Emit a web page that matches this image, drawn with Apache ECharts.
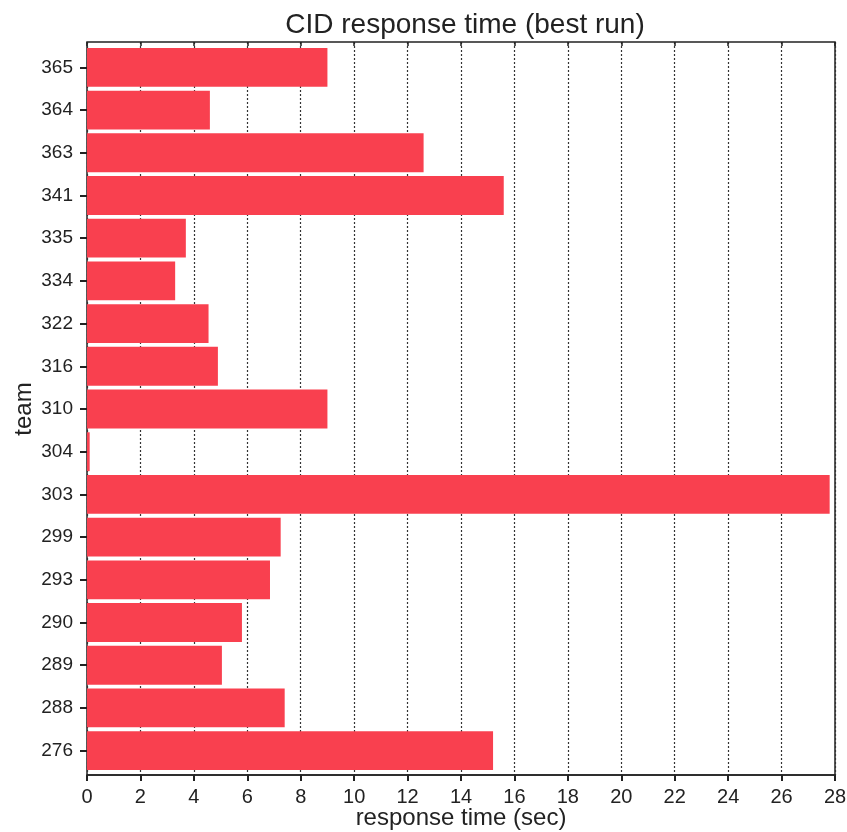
<!DOCTYPE html>
<html>
<head>
<meta charset="utf-8">
<title>CID response time</title>
<script src="https://cdn.jsdelivr.net/npm/echarts@6/dist/echarts.min.js"></script>
<style>
  html, body { margin: 0; padding: 0; background: #fff; }
  #chart { width: 847px; height: 832px; }
</style>
</head>
<body>
<div id="chart"></div>
<script>
// teams, top to bottom as shown
const teams = ['365', '364', '363', '341', '335', '334', '322', '316', '310', '304', '303', '299', '293', '290', '289', '288', '276']
// best-run response time (sec)
const responseTime = [9.0, 4.6, 12.6, 15.6, 3.7, 3.3, 4.55, 4.9, 9.0, 0.1, 27.8, 7.25, 6.85, 5.8, 5.05, 7.4, 15.2]

const font = 'Liberation Sans, Arial, Helvetica, sans-serif'
const ink = '#222'

const myChart = echarts.init(document.getElementById('chart'))

myChart.setOption({
  animation: false,
  textStyle: { fontFamily: font },
  title: {
    text: 'CID response time (best run)',
    left: 460,
    top: 6,
    textAlign: 'center',
    textStyle: { fontFamily: font, fontSize: 28, fontWeight: 'normal', color: ink }
  },
  grid: [
    // frame with x axis and grid lines
    {
      left: 87,
      right: 12,
      top: 42,
      bottom: 57,
      outerBoundsMode: 'none',
      show: true,
      borderColor: ink,
      borderWidth: 1.5,
      backgroundColor: '#fff'
    },
    // bars sit a few pixels inside the frame
    {
      left: 87,
      right: 12,
      top: 46,
      bottom: 60,
      outerBoundsMode: 'none'
    }
  ],
  xAxis: [
    {
      gridIndex: 0,
      type: 'value',
      min: 0,
      max: 28,
      interval: 2,
      name: 'response time (sec)',
      nameLocation: 'middle',
      nameGap: 31,
      nameMoveOverlap: false,
      nameTextStyle: { fontSize: 24, color: ink },
      axisLine: { show: true, lineStyle: { color: ink, width: 1.5 } },
      axisTick: { show: true, length: 6, lineStyle: { color: ink, width: 2 } },
      axisLabel: { fontSize: 20, color: ink, margin: 12 },
      // dotted vertical grid lines
      splitLine: { show: true, lineStyle: { color: '#333', type: [2, 2], width: 1.2 } }
    },
    {
      // ticks on the top border, inside
      gridIndex: 0,
      type: 'value',
      position: 'top',
      min: 0,
      max: 28,
      interval: 2,
      axisLine: { show: false },
      axisTick: { show: true, inside: true, length: 4, lineStyle: { color: ink, width: 1.5 } },
      axisLabel: { show: false },
      splitLine: { show: false }
    },
    {
      gridIndex: 1,
      type: 'value',
      min: 0,
      max: 28,
      show: false
    }
  ],
  yAxis: [
    {
      gridIndex: 0,
      type: 'value',
      show: false
    },
    {
      gridIndex: 1,
      type: 'category',
      inverse: true,
      data: teams,
      name: 'team',
      nameLocation: 'middle',
      nameGap: 51,
      nameMoveOverlap: false,
      nameRotate: 90,
      nameTextStyle: { fontSize: 24, color: ink },
      axisLine: { show: false },
      axisTick: { show: true, alignWithLabel: true, length: 7, lineStyle: { color: ink, width: 2 } },
      axisLabel: { fontSize: 19, color: ink, margin: 14 },
      splitLine: { show: false }
    }
  ],
  series: [
    {
      type: 'bar',
      xAxisIndex: 2,
      yAxisIndex: 1,
      data: responseTime,
      barCategoryGap: '9%',
      itemStyle: { color: '#f9404f' },
      z: 3
    }
  ]
})
</script>
</body>
</html>
